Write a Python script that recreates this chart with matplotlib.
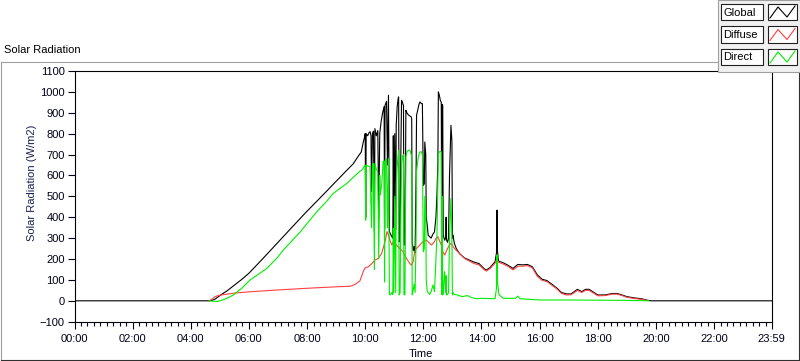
import matplotlib
matplotlib.use("Agg")
import matplotlib.pyplot as plt
import numpy as np
from matplotlib.lines import Line2D
from matplotlib.patches import Rectangle

plt.rcParams['font.family'] = ['Liberation Sans', 'DejaVu Sans']

W, H = 800, 361

# ---- data, times as HH:MM, values in W/m2 ----
global_t = ["00:00", "04:38", "04:45", "04:50", "05:00", "05:15", "05:30", "05:45", "06:00",
            "06:30", "07:00", "07:30", "08:00", "08:30", "09:00", "09:20", "09:35", "09:45",
            "09:52", "09:56", "09:58", "10:00", "10:01", "10:02", "10:05", "10:08", "10:10",
            "10:12", "10:13", "10:15", "10:17", "10:19", "10:20", "10:23", "10:26", "10:28",
            "10:30", "10:33", "10:36", "10:39", "10:40", "10:41", "10:44", "10:46", "10:48",
            "10:50", "10:52", "10:55", "10:57", "10:58", "10:59", "11:01", "11:03", "11:04",
            "11:06", "11:08", "11:09", "11:10", "11:12", "11:13", "11:15", "11:17", "11:18",
            "11:19", "11:20", "11:22", "11:24", "11:26", "11:29", "11:32", "11:35", "11:36",
            "11:37", "11:39", "11:41", "11:43", "11:45", "11:46", "11:49", "11:51", "11:53",
            "11:56", "11:58", "12:00", "12:02", "12:03", "12:05", "12:06", "12:08", "12:10",
            "12:13", "12:16", "12:20", "12:23", "12:26", "12:28", "12:30", "12:31", "12:33",
            "12:35", "12:37", "12:38", "12:39", "12:40", "12:41", "12:44", "12:46", "12:47",
            "12:48", "12:50", "12:52", "12:54", "12:57", "12:59", "13:00", "13:01", "13:04",
            "13:08", "13:15", "13:25", "13:35", "13:45", "13:55", "14:05", "14:10", "14:18",
            "14:28", "14:31", "14:32", "14:33", "14:35", "14:45", "14:55", "15:05", "15:15",
            "15:25", "15:35", "15:45", "15:55", "16:05", "16:15", "16:25", "16:35", "16:45",
            "16:55", "17:05", "17:12", "17:18", "17:27", "17:35", "17:42", "17:52", "18:00",
            "18:15", "18:30", "18:40", "18:50", "19:00", "19:15", "19:30", "19:44", "19:50",
            "23:59"]
global_v = [0, 0, 3, 8, 25, 48, 75, 102, 132,
            205, 280, 355, 429, 500, 572, 620, 655, 690,
            713, 760, 777, 800, 400, 800, 790, 805, 810,
            790, 522, 800, 812, 330, 824, 790, 815, 394,
            800, 860, 900, 930, 346, 936, 955, 650, 984,
            331, 320, 307, 300, 790, 320, 800, 340, 840,
            930, 968, 976, 283, 300, 600, 960, 950, 940,
            936, 267, 270, 912, 900, 890, 885, 880, 870,
            283, 240, 260, 230, 600, 888, 920, 940, 952,
            944, 944, 553, 560, 760, 700, 400, 362, 314,
            307, 300, 320, 330, 400, 500, 665, 1000, 984,
            960, 950, 275, 940, 936, 315, 290, 300, 400,
            290, 280, 300, 600, 840, 760, 300, 315, 275,
            250, 225, 205, 195, 185, 178, 155, 147, 160,
            187, 230, 434, 240, 190, 182, 170, 155, 174,
            172, 174, 163, 125, 103, 97, 80, 62, 40,
            33, 33, 45, 55, 44, 55, 55, 40, 28,
            28, 35, 35, 28, 20, 14, 10, 2, 0,
            0]

diffuse_t = ["04:38", "04:45", "04:50", "05:00", "05:30", "06:00", "07:00", "08:00", "09:00",
             "09:30", "09:40", "09:49", "09:56", "10:00", "10:07", "10:14", "10:20", "10:27",
             "10:34", "10:38", "10:41", "10:45", "10:48", "10:51", "10:55", "10:58", "11:04",
             "11:11", "11:18", "11:25", "11:32", "11:35", "11:39", "11:42", "11:46", "11:53",
             "11:59", "12:06", "12:13", "12:17", "12:23", "12:26", "12:30", "12:37", "12:40",
             "12:44", "12:50", "12:54", "12:57", "13:04", "13:11", "13:18", "13:25", "13:35",
             "13:45", "13:55", "14:05", "14:10", "14:18", "14:28", "14:32", "14:35", "14:45",
             "14:55", "15:05", "15:15", "15:25", "15:35", "15:45", "15:55", "16:05", "16:15",
             "16:25", "16:35", "16:45", "16:55", "17:05", "17:12", "17:18", "17:27", "17:35",
             "17:42", "17:52", "18:00", "18:15", "18:30", "18:40", "18:50", "19:00", "19:15",
             "19:30", "19:44"]
diffuse_v = [0, 10, 20, 27, 37, 43, 52, 60, 67,
             70, 80, 95, 140, 158, 163, 179, 195, 203,
             227, 260, 283, 331, 315, 291, 267, 283, 267,
             251, 235, 203, 179, 171, 187, 235, 251, 267,
             283, 291, 275, 267, 283, 299, 307, 267, 235,
             219, 251, 267, 275, 251, 235, 219, 203, 190,
             178, 172, 150, 142, 155, 180, 200, 185, 176,
             164, 148, 165, 166, 168, 158, 118, 98, 92,
             75, 58, 36, 28, 29, 40, 50, 40, 50,
             50, 36, 24, 25, 32, 32, 25, 17, 11,
             7, 1]

direct_t = ["04:38", "04:45", "04:55", "05:00", "05:15", "05:28", "05:45", "06:02", "06:20",
            "06:37", "07:00", "07:11", "07:30", "07:46", "08:00", "08:20", "08:40", "08:54",
            "09:08", "09:22", "09:35", "09:49", "09:53", "10:00", "10:01", "10:02", "10:06",
            "10:10", "10:13", "10:15", "10:17", "10:19", "10:20", "10:23", "10:26", "10:28",
            "10:30", "10:31", "10:34", "10:37", "10:39", "10:40", "10:41", "10:44", "10:46",
            "10:48", "10:50", "10:52", "10:55", "10:57", "10:58", "10:59", "11:01", "11:03",
            "11:04", "11:06", "11:08", "11:09", "11:10", "11:12", "11:13", "11:15", "11:17",
            "11:19", "11:20", "11:22", "11:24", "11:26", "11:29", "11:32", "11:35", "11:36",
            "11:37", "11:39", "11:41", "11:43", "11:45", "11:46", "11:49", "11:51", "11:53",
            "11:56", "11:58", "12:00", "12:02", "12:03", "12:05", "12:06", "12:08", "12:10",
            "12:13", "12:16", "12:20", "12:23", "12:26", "12:28", "12:30", "12:31", "12:33",
            "12:35", "12:37", "12:38", "12:39", "12:40", "12:41", "12:44", "12:46", "12:47",
            "12:48", "12:50", "12:52", "12:54", "12:57", "12:59", "13:00", "13:01", "13:04",
            "13:10", "13:20", "13:31", "13:40", "13:50", "14:00", "14:28", "14:31", "14:32",
            "14:33", "14:36", "14:45", "15:10", "15:15", "15:20", "15:40", "16:00", "17:00",
            "18:00", "19:00", "19:45"]
direct_v = [0, -2, -3, 0, 12, 28, 60, 99, 128,
            155, 210, 243, 290, 330, 370, 426, 475, 514,
            538, 562, 590, 620, 625, 649, 386, 649, 645,
            641, 350, 650, 657, 150, 657, 630, 617, 200,
            600, 506, 553, 665, 670, 90, 665, 681, 350,
            681, 30, 28, 40, 30, 346, 40, 500, 40,
            560, 640, 700, 720, 28, 40, 300, 650, 690,
            700, 28, 30, 690, 713, 721, 721, 700, 690,
            28, 50, 80, 40, 300, 620, 680, 700, 713,
            713, 700, 235, 250, 500, 420, 100, 44, 40,
            30, 44, 76, 44, 200, 300, 553, 700, 713,
            715, 713, 30, 500, 28, 40, 140, 40, 120,
            28, 30, 40, 300, 490, 300, 28, 40, 30,
            28, 20, 25, 15, 10, 12, 10, 60, 219,
            90, 30, 12, 12, 22, 10, 7, 4, 4,
            3, 2, 0]

series = [("Global", global_t, global_v, "#000000"),
          ("Diffuse", diffuse_t, diffuse_v, "#ff4040"),
          ("Direct", direct_t, direct_v, "#00ee00")]


def to_min(ts):
    return np.array([int(s[:2]) * 60 + int(s[3:]) for s in ts], dtype=float)


def fx(x):
    return x / W


def fy(y):
    return 1 - y / H


fig = plt.figure(figsize=(W / 100, H / 100), dpi=100)
fig.patch.set_facecolor("white")

# outer panel frame
fig.add_artist(Line2D([fx(0.5), fx(799.5)], [fy(61.5), fy(61.5)], color="#a0a0a0", lw=0.8))
fig.add_artist(Line2D([fx(0.5), fx(0.5)], [fy(61.5), fy(360.5)], color="#a0a0a0", lw=0.8))
fig.add_artist(Line2D([fx(0.5), fx(799.5)], [fy(360.3), fy(360.3)], color="#303030", lw=0.8))
fig.add_artist(Line2D([fx(799.3), fx(799.3)], [fy(61.5), fy(360.5)], color="#303030", lw=0.8))

ax = fig.add_axes([fx(74.5), fy(321.7), fx(771.7 - 74.5), (321.7 - 71) / H])
for name, t, v, c in series:
    ax.plot(to_min(t), v, color=c, lw=0.8, zorder=2)

ax.set_xlim(0, 1439)
ax.set_ylim(-100, 1100)
ax.set_yticks(np.arange(-100, 1101, 100))
ax.set_xticks(list(np.arange(0, 1321, 120)) + [1439])
ax.set_xticklabels(["%02d:00" % h for h in range(0, 23, 2)] + ["23:59"])
ax.set_xticks(np.arange(0, 1439, 40 / 3), minor=True)
ax.tick_params(axis="both", which="major", length=5, width=0.8, labelsize=8, colors="#000018")
ax.tick_params(axis="y", pad=2)
ax.tick_params(axis="x", pad=4)
ax.tick_params(axis="x", which="minor", length=3, width=0.8, color="#000018")
for s in ax.spines.values():
    s.set_linewidth(0.8)

fig.text(fx(4), fy(50), "Solar Radiation", fontsize=8, va="center", ha="left")
fig.text(fx(421), fy(354), "Time", fontsize=8, va="center", ha="center", color="#000018")
fig.text(fx(32), fy(183), "Solar Radiation (W/m2)", fontsize=8, rotation=90,
         va="center", ha="center", color="#1a2050")

# legend panel (top right)
fig.add_artist(Rectangle((fx(717.5), fy(72)), fx(83), 72 / H, transform=fig.transFigure,
                         facecolor="#f0f0f0", edgecolor="#a0a0a0", lw=0.8, zorder=5))
for i, (name, t, v, c) in enumerate(series):
    y0 = 4 + i * 22.5
    fig.add_artist(Rectangle((fx(721), fy(y0 + 16)), fx(42), 16 / H, transform=fig.transFigure,
                             facecolor="white", edgecolor="#202020", lw=0.8, zorder=6))
    fig.add_artist(Rectangle((fx(767.5), fy(y0 + 16)), fx(29.5), 16 / H, transform=fig.transFigure,
                             facecolor="white", edgecolor="#202020", lw=0.8, zorder=6))
    zx = [770, 778, 787, 795]
    zy = [y0 + 14, y0 + 3, y0 + 13, y0 + 2]
    fig.add_artist(Line2D([fx(p) for p in zx], [fy(p) for p in zy], color=c, lw=0.8, zorder=7))
    fig.text(fx(723), fy(y0 + 8.5), name, fontsize=8, va="center", ha="left", zorder=7)

fig.savefig("out.png", dpi=100)
